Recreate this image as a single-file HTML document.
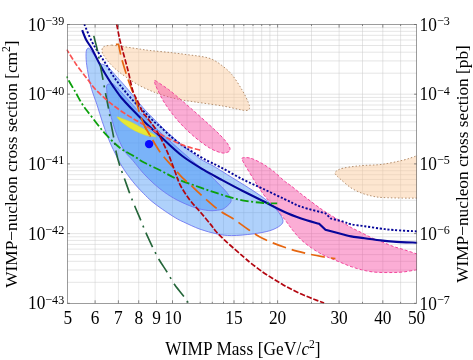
<!DOCTYPE html>
<html><head><meta charset="utf-8"><title>WIMP</title>
<style>html,body{margin:0;padding:0;background:#fff;}body{width:473px;height:360px;overflow:hidden;}svg{display:block;will-change:transform;}text{font-family:"Liberation Serif",serif;fill:#000;}</style>
</head><body>
<svg width="473" height="360" viewBox="0 0 473 360">
<rect width="473" height="360" fill="#fff"/>
<defs><clipPath id="cp"><rect x="66.4" y="24" width="350.7" height="279.8"/></clipPath></defs>
<path d="M95.1 24.5V303.3M118.4 24.5V303.3M138.7 24.5V303.3M156.5 24.5V303.3M172.5 24.5V303.3M187 24.5V303.3M200.2 24.5V303.3M212.3 24.5V303.3M223.5 24.5V303.3M234 24.5V303.3M243.8 24.5V303.3M253 24.5V303.3M261.7 24.5V303.3M269.9 24.5V303.3M277.6 24.5V303.3M311.5 24.5V303.3M339.1 24.5V303.3M362.5 24.5V303.3M382.8 24.5V303.3M400.6 24.5V303.3M67.4 282.3H416.6M67.4 270H416.6M67.4 261.3H416.6M67.4 254.6H416.6M67.4 249.1H416.6M67.4 244.4H416.6M67.4 240.4H416.6M67.4 236.8H416.6M67.4 233.6H416.6M67.4 212.6H416.6M67.4 200.3H416.6M67.4 191.6H416.6M67.4 184.9H416.6M67.4 179.4H416.6M67.4 174.7H416.6M67.4 170.7H416.6M67.4 167.1H416.6M67.4 163.9H416.6M67.4 142.9H416.6M67.4 130.6H416.6M67.4 121.9H416.6M67.4 115.2H416.6M67.4 109.7H416.6M67.4 105H416.6M67.4 101H416.6M67.4 97.4H416.6M67.4 94.2H416.6M67.4 73.2H416.6M67.4 60.9H416.6M67.4 52.2H416.6M67.4 45.5H416.6M67.4 40H416.6M67.4 35.3H416.6M67.4 31.3H416.6M67.4 27.7H416.6" stroke="#cacaca" stroke-width="0.5" fill="none"/>
<g clip-path="url(#cp)">
<path d="M111.8 45.1C110.8 45.2 107.5 45.5 106 45.9C104.5 46.3 103.7 46.6 103 47.3C102.3 48 102 49.3 101.9 50.3C101.8 51.3 102.3 52.6 102.6 53.5C102.9 54.4 102.9 54.2 103.8 55.5C104.7 56.8 106.3 59.2 107.8 61C109.3 62.8 110.9 64.6 112.7 66.4C114.5 68.2 116.7 70.1 118.8 71.8C120.9 73.5 122.2 74.4 125.4 76.6C128.6 78.8 133.9 82.4 138.1 84.8C142.3 87.2 147.2 89.2 150.8 90.8C154.5 92.4 156.5 93 160 94.2C163.5 95.4 168.5 96.9 172 97.8C175.5 98.7 178.1 99.2 181.1 99.8C184.1 100.4 186.5 100.7 190 101.2C193.5 101.7 196.7 102.2 202.3 103C207.9 103.8 217.1 105 223.4 106.1C229.7 107.2 236.6 109 240.3 109.7C244 110.5 244.2 110.5 245.5 110.6C246.8 110.6 247.5 110.5 248.2 110C248.9 109.5 249.6 109 249.6 107.7C249.6 106.5 249.6 105.5 248.3 102.5C247.1 99.5 244.9 94.7 242.1 90C239.3 85.3 235.2 78.6 231.7 74.4C228.2 70.2 224.7 67.6 221.2 65C217.8 62.4 214.3 60.2 210.8 58.8C207.3 57.3 203.5 56.9 200 56.3C196.5 55.7 194.8 55.6 190 55C185.2 54.4 177.8 53.4 171.1 52.6C164.4 51.9 155.1 51.1 150 50.5C144.9 49.9 145.2 49.9 140.8 49.2C136.4 48.6 128.2 47.3 123.4 46.6C118.6 45.9 113.7 45.4 111.8 45.1Z" fill="#fbc898" fill-opacity="0.46" stroke="#b48e6c" stroke-width="1" stroke-dasharray="1.5 2"/>
<path d="M422 154C421.1 154.3 419.6 154.9 416.5 155.9C413.4 156.9 409.1 158.7 403.4 160.1C397.7 161.5 388.8 163.4 382.3 164.3C375.8 165.2 369.3 165.1 364.6 165.4C359.9 165.8 357.5 166 354 166.4C350.5 166.8 346.1 167.5 343.4 168.1C340.7 168.7 339.4 169.2 338 170C336.6 170.8 335.2 171.9 335 172.8C334.8 173.7 335.7 174.5 336.5 175.5C337.3 176.5 337.6 176.8 340 178.8C342.4 180.8 347.1 185.2 350.6 187.6C354.1 189.9 357.6 191.5 361.1 192.9C364.6 194.3 368.2 195.2 371.7 196C375.2 196.8 377 197.2 382.3 197.5C387.6 197.8 397.7 198 403.4 198.1C409.1 198.2 413.4 198.1 416.5 198.1C419.6 198.1 421.1 198.1 422 198.1Z" fill="#fbc898" fill-opacity="0.46" stroke="#b48e6c" stroke-width="1" stroke-dasharray="1.5 2"/>
<path d="M155.2 80.6C156.5 81.1 160 83.7 162.7 85.5C165.3 87.3 166.2 87.5 171.1 91.5C176 95.5 185.2 103.4 192.3 109.6C199.4 115.8 208.1 123.7 213.4 128.6C218.7 133.5 221.3 136.2 224 139.2C226.7 142.2 228.3 144.8 229.3 146.6C230.3 148.4 230.1 149.3 229.9 150.2C229.7 151.1 229.5 151.4 228.2 151.9C226.9 152.4 225.1 153.6 221.9 152.9C218.7 152.2 214.1 150.7 209.2 147.7C204.3 144.7 197.6 139.6 192.3 135C187 130.4 182.1 125.5 177.5 120.2C172.9 114.9 168.2 108.6 164.8 103.3C161.4 98 158.7 92 157 88.5C155.3 85 154.9 83.6 154.6 82.3C154.3 81 153.8 80.1 155.2 80.6Z" fill="#f6409d" fill-opacity="0.43" stroke="#f2469c" stroke-width="1" stroke-dasharray="3 2"/>
<path d="M422 255.5C421.1 255.2 419.7 254.9 416.7 253.9C413.7 252.9 407.9 250.9 404 249.7C400.1 248.5 396.9 247.7 393.4 246.5C389.9 245.3 386.4 243.7 382.9 242.3C379.4 240.9 375.8 239.7 372.3 238.1C368.8 236.5 365.2 234.6 361.7 232.8C358.2 231 354.6 229.4 351.1 227.5C347.6 225.6 344.1 223.2 340.6 221.1C337.1 219 333.1 216.7 330 214.8C326.9 212.9 325.4 211.9 322.3 209.8C319.2 207.7 315.2 204.7 311.7 202C308.2 199.3 304.6 196.7 301.1 193.9C297.6 191.2 293.4 187.6 290.6 185.5C287.9 183.4 287.4 183.5 284.6 181.2C281.8 178.9 277.5 174.5 274 171.7C270.5 168.9 266.9 166.4 263.4 164.3C259.9 162.2 255.6 160.1 252.9 159C250.2 157.9 248.8 157.8 247 157.6C245.2 157.4 243.1 157.6 242.3 158C241.5 158.4 241.6 158.5 242.3 160.1C243 161.7 244.7 164.5 246.5 167.5C248.3 170.5 250.8 174.7 252.9 178.1C255 181.5 257.1 184.8 259.2 188C261.3 191.2 263 194 265.5 197C268 200 270.8 202.3 274 206C277.2 209.7 281.5 215.3 284.6 219.3C287.7 223.3 289.9 226.8 292.7 230.2C295.4 233.6 297.9 236.7 301.1 239.7C304.3 242.7 308.2 245.6 311.7 248.1C315.2 250.6 319.2 252.8 322.3 254.5C325.4 256.2 326.9 256.8 330 258.1C333.1 259.4 337.1 261 340.6 262.4C344.1 263.8 347.6 265.4 351.1 266.6C354.6 267.8 358.2 268.9 361.7 269.8C365.2 270.7 368.8 271.4 372.3 271.9C375.8 272.3 379.4 272.4 382.9 272.5C386.4 272.6 389.9 272.6 393.4 272.5C396.9 272.4 400.1 272.3 404 271.9C407.9 271.4 413.7 270.3 416.7 269.8C419.7 269.3 421.1 269 422 268.8Z" fill="#f6409d" fill-opacity="0.43" stroke="#f2469c" stroke-width="1" stroke-dasharray="3 2"/>
<path d="M88.5 48.1C87.5 48.1 86.5 49.3 86.2 51.7C85.9 54.1 86 58.1 86.4 62.3C86.8 66.5 87.9 72.6 88.8 77.1C89.7 81.6 90.3 84.9 91.7 89.5C93.1 94.1 95.2 99.4 97 104.8C98.8 110.2 100.5 116.4 102.3 121.7C104.1 127 105.8 131.8 107.6 136.5C109.4 141.2 110.8 144.5 113.3 149.6C115.8 154.7 119 161.6 122.3 166.9C125.6 172.2 129.4 177.3 132.9 181.7C136.4 186.1 140.2 190 143.4 193.3C146.6 196.6 148.8 198.8 152 201.5C155.2 204.2 158.5 206.5 162.3 209.2C166.2 211.9 171.6 215.5 175.1 217.6C178.6 219.7 179.2 220 183.4 221.9C187.6 223.8 194.4 227.2 200 229.2C205.6 231.2 211.6 232.8 216.9 233.9C222.2 235 225.7 235.6 231.7 235.6C237.7 235.6 246.6 234.7 252.9 233.9C259.2 233.1 265.2 232.1 269.8 230.7C274.4 229.3 278.1 227.2 280.3 225.5C282.5 223.8 283.2 222.5 282.9 220.2C282.5 217.9 280.7 214.9 278.2 211.7C275.7 208.5 271.9 204.6 267.7 201.1C263.5 197.6 258.2 194.1 252.9 190.6C247.6 187.1 240.7 182.9 236 180C231.3 177.1 228.7 175.5 225 173.2C221.3 170.9 218 168.7 214 166.4C210 164.1 204.3 161.5 200.8 159.3C197.3 157.1 195.7 155.3 192.9 153.2C190.1 151.1 186.8 149.1 183.8 146.7C180.8 144.3 177.8 141.6 174.9 139C172 136.4 169.3 134 166.5 131.4C163.7 128.8 161.6 126.7 158.2 123.3C154.8 119.9 150 115.4 146 111.1C142 106.8 137.4 100.8 134.4 97.2C131.4 93.6 130.1 92.1 128 89.6C125.9 87.1 123.2 83.9 121.7 82.2C120.2 80.5 120.5 80.9 119 79.3C117.5 77.7 114.9 74.6 113 72.5C111.1 70.4 109.2 68.1 107.6 66.8C106 65.5 104.8 65 103.5 64.5C102.2 64 101.3 64.6 100.1 63.5C98.8 62.4 97.3 59.9 96 58C94.7 56.1 93.2 53.6 92 52C90.8 50.4 89.5 48.1 88.5 48.1Z" fill="#579ef7" fill-opacity="0.48" stroke="#6f78f2" stroke-width="0.9"/>
<path d="M109.5 84C108.4 84 107.7 84.1 107.2 84.8C106.7 85.5 106.5 86.8 106.5 88C106.5 89.2 106.6 89.2 106.9 92C107.2 94.8 107.4 99.8 108.3 104.8C109.2 109.8 111 116.4 112.5 121.7C114 127 115.5 131.6 117.5 136.5C119.5 141.4 121.9 147 124.5 151C127.1 155 129.8 156.9 132.9 160.6C136.1 164.3 139.9 169.4 143.4 173.3C146.9 177.2 150.5 180.6 154 183.8C157.5 187 160.8 189.6 164.6 192.3C168.4 195 172.2 197.5 177.1 200C182 202.5 188.7 205.5 194 207.3C199.3 209.1 204.5 210.2 208.8 210.6C213.1 211 217.2 210.3 220 209.8C222.8 209.3 223.8 208.9 225.6 207.4C227.4 205.9 230.7 203.3 231.1 201.1C231.5 198.9 229.7 196.5 228 194C226.3 191.5 223.3 188.6 221.1 186.3C218.9 184 216.9 182.1 214.8 180C212.7 177.9 211.8 176.6 208.5 173.8C205.2 171 199.4 166.6 195 163C190.6 159.4 188 157 182.3 152C176.7 147 167.4 138.9 161.1 133C154.8 127.1 147.8 120 144.2 116.5C140.5 113 142.1 115.1 139.2 112C136.2 108.9 130.7 102.6 126.5 98C122.3 93.4 116.6 86.8 113.8 84.5C111 82.2 110.6 84 109.5 84Z" fill="#579ef7" fill-opacity="0.6" stroke="#6f78f2" stroke-width="0.9"/>
<path d="M117.3 116.9C117.6 116.7 118.8 117.4 121 118.2C123.2 119 126.7 120.1 130.4 121.8C134.1 123.5 139.4 126.6 143 128.6C146.6 130.5 149.9 132.3 152 133.5C154.1 134.7 155.1 135.4 155.6 136C156.1 136.6 156.5 136.9 155.1 136.8C153.7 136.7 149.5 136.3 146.9 135.6C144.3 134.9 142.1 134 139.3 132.8C136.6 131.6 133.1 129.8 130.4 128.2C127.7 126.6 124.9 124.5 123 123C121.1 121.5 120 120.5 119 119.5C118 118.5 117 117.1 117.3 116.9Z" fill="#e8e835" stroke="#e0e020" stroke-width="0.5"/>
<path d="M82.2 30.1C82.9 31.8 84.7 36.9 86.3 40C87.9 43.1 89.5 44.6 91.7 48.5C93.9 52.4 97.1 59.2 99.4 63.5C101.7 67.8 103.4 70.9 105.6 74.5C107.8 78.1 109.8 81.4 112.5 85.3C115.2 89.2 118 93.7 121.6 98C125.2 102.3 130.2 107.3 134 111.3C137.8 115.3 141.1 118.6 144.6 122C148.1 125.4 152.3 129.2 155.1 131.7C157.8 134.2 156.6 132.9 161.1 137C165.6 141.1 175.2 150.6 182.3 156C189.4 161.4 196.9 165.8 203.4 169.7C209.9 173.6 214.6 176 221.1 179.5C227.6 183 235.2 187.1 242.3 190.7C249.4 194.3 256.3 197.6 263.4 201.2C270.4 204.8 278.3 209.1 284.6 212C290.9 214.9 295.4 216.5 301.1 218.5C306.9 220.5 316.1 222.9 319.1 223.8L325.5 229.7C328.5 230.5 339.1 233.3 343.4 234.4C347.7 235.5 347.6 235.8 351.1 236.4C354.6 237 359.8 237.5 364.6 238.2C369.4 238.8 375.2 239.7 380 240.3C384.8 240.9 387.1 241.2 393.4 241.6C399.7 242 413.9 242.6 418 242.8" fill="none" stroke="#06069a" stroke-width="2.1"/>
<path d="M84.3 24.2C85.5 27 89.2 36.4 91.6 41.1C94 45.9 96.2 49 98.5 52.7C100.8 56.4 102.9 59.2 105.4 63.2C108 67.2 110.8 72.5 113.8 76.8C116.8 81.1 120 85.2 123.4 89.3C126.8 93.4 130.5 97.8 134 101.6C137.5 105.4 141.1 108.8 144.6 112.3C148.1 115.8 152.3 120.1 155.1 122.6C157.8 125.1 158.6 125.1 161.1 127.3C163.6 129.5 166.5 132.8 170 135.8C173.5 138.8 178.6 142.9 182.3 145.5C186 148.1 188.5 149.3 192 151.5C195.5 153.7 198.6 155.9 203.4 158.6C208.2 161.3 214.6 164.1 221.1 167.5C227.6 170.9 235.2 175.5 242.3 179.1C249.4 182.7 256.3 185.7 263.4 189C270.4 192.3 278.3 196.2 284.6 199.1C290.9 202 294.3 204.3 301.1 206.7C307.9 209.1 321.4 212.2 325.5 213.3L330.7 218.5C332.8 219 340 220.7 343.4 221.7C346.8 222.7 347.6 223.6 351.1 224.3C354.6 225.1 359.8 225.5 364.6 226.2C369.4 226.9 375.2 227.9 380 228.5C384.8 229.1 387.1 229.5 393.4 230C399.7 230.5 413.9 231.2 418 231.4" fill="none" stroke="#06069a" stroke-width="1.9" stroke-dasharray="2.1 1.8"/>
<path d="M66.6 76.4C66.9 77.1 67.6 78.5 68.7 80.5C69.8 82.5 71.9 86.1 73.2 88.3C74.5 90.5 75 91.3 76.3 93.6C77.6 95.9 79.5 99.6 81.1 102.3C82.7 105 84.3 107.2 86 109.5C87.7 111.8 88.5 112.7 91.3 116.2C94.1 119.8 98.7 126.2 102.7 130.8C106.7 135.4 112 140.8 115.4 144C118.9 147.2 120.3 148.3 123.4 150.3C126.5 152.3 130.5 154.1 134 156.2C137.5 158.3 140.1 160.4 144.6 162.8C149.1 165.2 155.7 168.1 161.1 170.8C166.5 173.5 170.5 176.2 177 179C183.5 181.8 192.7 184.8 200 187.4C207.3 190 214 192.3 221.1 194.5C228.2 196.7 235.2 198.9 242.3 200.3C249.4 201.7 257.6 202.5 263.4 203C269.2 203.5 274.9 203.3 277.2 203.4" fill="none" stroke="#0ca00c" stroke-width="1.8" stroke-dasharray="8.5 2.5 2 2.5" stroke-dashoffset="11"/>
<path d="M93.8 35.9C94.3 38 96.1 44.8 97 48.5C97.9 52.2 98.3 54.5 99 58C99.7 61.5 100.4 66.1 101.1 69.6C101.8 73.1 102.2 75.3 102.9 79.2C103.6 83.1 104.5 87.9 105.5 93.2C106.5 98.5 108.1 106.3 109 111.1C109.9 115.8 109.9 117.1 110.7 121.7C111.5 126.3 113 133.7 113.9 138.6C114.8 143.5 115.1 146.9 116 151.3C116.9 155.7 118.1 160.3 119.5 164.8C120.9 169.3 122.7 173.8 124.4 178.5C126.1 183.2 128 188.7 129.7 193.3C131.4 197.9 132.9 201.7 134.8 206.3C136.7 210.9 139.2 216.5 141.1 221.1C143 225.7 144.4 229.4 146.4 233.8C148.4 238.2 150.7 243.2 152.8 247.6C155 252 156.9 255.8 159.3 260C161.8 264.2 164.9 268.6 167.5 272.8C170.1 277 172.1 280.9 174.9 285C177.7 289.1 182.2 294.1 184.4 297.1C186.6 300.1 187.6 301.9 188.2 302.8" fill="none" stroke="#25663a" stroke-width="1.65" stroke-dasharray="15.8 5.6 2 5.8"/>
<path d="M66.8 49.6C68.5 52.2 73.5 60.6 76.9 65.5C80.4 70.4 84.3 75.1 87.5 79.2C90.7 83.3 91.8 85.7 96 90C100.2 94.3 107.3 100.7 112.9 105.1C118.5 109.5 124.5 113.3 129.8 116.6C135.1 119.9 139.4 122.1 144.6 125.1C149.8 128.1 154.8 131.4 161.1 134.7C167.4 138 175.8 142.3 182.3 144.9C188.8 147.5 197.3 149.3 200.3 150.2" fill="none" stroke="#fa5252" stroke-width="1.7" stroke-dasharray="5.5 2.1" stroke-dashoffset="1.5"/>
<path d="M115.9 44.3L118.6 44.3C118.9 46 120.1 52 120.7 54.8C121.3 57.6 121.3 57.8 122.3 61.1C123.3 64.5 125 70.2 126.5 74.9C128 79.6 130 85 131.5 89C133 93 133.9 94.5 135.4 99C136.9 103.5 139 111.5 140.5 116C142 120.5 142.9 122.6 144.6 126C146.3 129.4 149.6 134.8 150.6 136.5" fill="none" stroke="#e6660f" stroke-width="1.7" stroke-dasharray="14 6" stroke-dashoffset="0.8"/>
<path d="M144.6 126C145.6 127.8 148.2 132.4 150.6 136.5C153 140.6 156.5 146.8 159 150.5C161.5 154.2 162.9 155.8 165.4 158.7C167.9 161.6 171 164.9 173.8 168.1C176.6 171.3 179.5 174.9 182.3 177.7C185.1 180.5 187.8 182.3 190.7 185C193.6 187.7 196.7 190.8 200 193.8C203.3 196.9 207.1 200.3 210.6 203.3C214.1 206.3 217.2 209.1 221.1 211.7C225 214.3 229.2 216.1 233.8 219.1C238.4 222.1 243.7 226.4 248.6 229.7C253.5 233 257.4 235.9 263.4 238.8C269.4 241.7 277.8 245 284.6 247.3C291.4 249.7 297.7 251.3 304 252.9C310.3 254.5 317.1 255.8 322.3 256.7C327.5 257.6 333.2 258.3 335.4 258.6" fill="none" stroke="#e6660f" stroke-width="1.7" stroke-dasharray="14 6" stroke-dashoffset="3.6"/>
<path d="M116.7 24.2C117.2 26.5 118.5 33.8 119.4 38C120.3 42.2 121.3 45.6 122.3 49.5C123.3 53.4 124.5 57.2 125.5 61.1C126.5 65 127.4 67.8 128.6 72.8C129.8 77.8 131.3 86.1 132.9 91C134.5 95.9 136.3 98.3 138 102C139.7 105.7 141.6 110.5 143 113C144.4 115.5 144.2 114 146.5 117C148.8 120 153.4 125.2 156.9 131.1C160.4 137 164.5 145.6 167.5 152.3C170.5 159 172.8 165.9 174.9 171.3C177 176.8 177.7 180.2 180.2 185C182.7 189.8 186.5 195.6 189.8 200C193.1 204.4 196.5 207.6 200 211.7C203.5 215.8 207.9 221.1 210.6 224.4C213.3 227.8 214 229.2 216.3 231.8C218.6 234.4 221.3 236.9 224.3 239.8C227.3 242.7 231.2 246.1 234.5 249C237.8 251.9 241.4 255.1 244.2 257.5C247 259.9 248.2 261 251.1 263.3C254 265.6 258.2 268.8 261.7 271.3C265.2 273.8 268.8 276 272.3 278.2C275.8 280.4 279.4 282.7 282.9 284.7C286.4 286.7 289.9 288.6 293.4 290.3C296.9 292.1 300.5 293.7 304 295.2C307.5 296.7 311.2 298.2 314.6 299.5C318 300.8 322.5 302.4 324.1 303" fill="none" stroke="#b3050f" stroke-width="1.7" stroke-dasharray="5.4 1.8"/>
<circle cx="149.1" cy="144.1" r="4.2" fill="#0a0aff"/>
</g>
<rect x="67.4" y="24.5" width="349.2" height="278.8" fill="none" stroke="#5a5a5a" stroke-width="0.6"/>
<path d="M95.1 24.5v3M95.1 303.3v-3M118.4 24.5v3M118.4 303.3v-3M138.7 24.5v3M138.7 303.3v-3M156.5 24.5v3M156.5 303.3v-3M172.5 24.5v3M172.5 303.3v-3M187 24.5v1.5M187 303.3v-1.5M200.2 24.5v1.5M200.2 303.3v-1.5M212.3 24.5v1.5M212.3 303.3v-1.5M223.5 24.5v1.5M223.5 303.3v-1.5M234 24.5v3M234 303.3v-3M243.8 24.5v1.5M243.8 303.3v-1.5M253 24.5v1.5M253 303.3v-1.5M261.7 24.5v1.5M261.7 303.3v-1.5M269.9 24.5v1.5M269.9 303.3v-1.5M277.6 24.5v3M277.6 303.3v-3M311.5 24.5v1.5M311.5 303.3v-1.5M339.1 24.5v3M339.1 303.3v-3M362.5 24.5v1.5M362.5 303.3v-1.5M382.8 24.5v3M382.8 303.3v-3M400.6 24.5v1.5M400.6 303.3v-1.5M67.4 24.5h2.5M416.6 24.5h-2.5M67.4 94.2h2.5M416.6 94.2h-2.5M67.4 163.9h2.5M416.6 163.9h-2.5M67.4 233.6h2.5M416.6 233.6h-2.5M67.4 303.3h2.5M416.6 303.3h-2.5" stroke="#5a5a5a" stroke-width="0.7" fill="none"/>
<text transform="translate(67.9 323.7) scale(1 1.04)" font-size="17.3" text-anchor="middle">5</text>
<text transform="translate(95.1 323.7) scale(1 1.04)" font-size="17.3" text-anchor="middle">6</text>
<text transform="translate(118.4 323.7) scale(1 1.04)" font-size="17.3" text-anchor="middle">7</text>
<text transform="translate(138.7 323.7) scale(1 1.04)" font-size="17.3" text-anchor="middle">8</text>
<text transform="translate(156.5 323.7) scale(1 1.04)" font-size="17.3" text-anchor="middle">9</text>
<text transform="translate(173 323.7) scale(1 1.04)" font-size="17.3" text-anchor="middle">10</text>
<text transform="translate(234 323.7) scale(1 1.04)" font-size="17.3" text-anchor="middle">15</text>
<text transform="translate(277.6 323.7) scale(1 1.04)" font-size="17.3" text-anchor="middle">20</text>
<text transform="translate(339.1 323.7) scale(1 1.04)" font-size="17.3" text-anchor="middle">30</text>
<text transform="translate(382.8 323.7) scale(1 1.04)" font-size="17.3" text-anchor="middle">40</text>
<text transform="translate(416.6 323.7) scale(1 1.04)" font-size="17.3" text-anchor="middle">50</text>
<text transform="translate(64.2 30.5) scale(1 1.04)" font-size="17.3" text-anchor="end">10<tspan font-size="12.1" dy="-5.4">−39</tspan></text>
<text transform="translate(419.6 30.5) scale(1 1.04)" font-size="17.3">10<tspan font-size="12.1" dy="-5.4">−3</tspan></text>
<text transform="translate(64.2 100.2) scale(1 1.04)" font-size="17.3" text-anchor="end">10<tspan font-size="12.1" dy="-5.4">−40</tspan></text>
<text transform="translate(419.6 100.2) scale(1 1.04)" font-size="17.3">10<tspan font-size="12.1" dy="-5.4">−4</tspan></text>
<text transform="translate(64.2 169.9) scale(1 1.04)" font-size="17.3" text-anchor="end">10<tspan font-size="12.1" dy="-5.4">−41</tspan></text>
<text transform="translate(419.6 169.9) scale(1 1.04)" font-size="17.3">10<tspan font-size="12.1" dy="-5.4">−5</tspan></text>
<text transform="translate(64.2 239.6) scale(1 1.04)" font-size="17.3" text-anchor="end">10<tspan font-size="12.1" dy="-5.4">−42</tspan></text>
<text transform="translate(419.6 239.6) scale(1 1.04)" font-size="17.3">10<tspan font-size="12.1" dy="-5.4">−6</tspan></text>
<text transform="translate(64.2 309.3) scale(1 1.04)" font-size="17.3" text-anchor="end">10<tspan font-size="12.1" dy="-5.4">−43</tspan></text>
<text transform="translate(419.6 310) scale(1 1.04)" font-size="17.3">10<tspan font-size="12.1" dy="-5.4">−7</tspan></text>
<text transform="translate(16.5 164.1) rotate(-90) scale(1 1)" font-size="17.3" text-anchor="middle">WIMP−nucleon cross section [cm<tspan font-size="11.6" dy="-6.8">2</tspan><tspan dy="6.8">]</tspan></text>
<text transform="translate(467.5 164) rotate(-90) scale(1 1)" font-size="17.3" text-anchor="middle">WIMP−nucleon cross section [pb]</text>
<text transform="translate(242.9 355) scale(1 1.04)" font-size="17.3" text-anchor="middle"><tspan letter-spacing="0.1">WIMP Mass [GeV/</tspan><tspan font-style="italic">c</tspan><tspan font-size="11.6" dy="-6.8">2</tspan><tspan dy="6.8">]</tspan></text>
</svg></body></html>
